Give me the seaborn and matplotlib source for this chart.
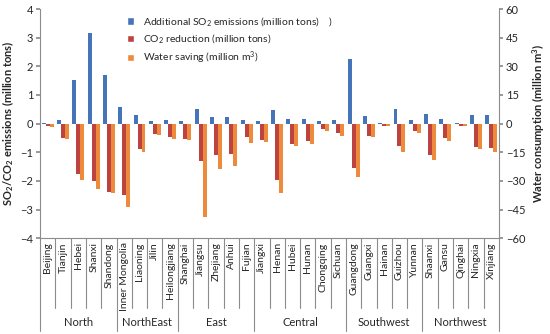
import matplotlib
matplotlib.use("Agg")
import matplotlib.pyplot as plt
from matplotlib.patches import Patch
import seaborn as sns
import pandas as pd

provinces = ['Beijing', 'Tianjin', 'Hebei', 'Shanxi', 'Shandong',
             'Inner Mongolia', 'Liaoning', 'Jilin', 'Heilongjiang',
             'Shanghai', 'Jiangsu', 'Zhejiang', 'Anhui', 'Fujian',
             'Jiangxi', 'Henan', 'Hubei', 'Hunan', 'Chongqing', 'Sichuan',
             'Guangdong', 'Guangxi', 'Hainan', 'Guizhou', 'Yunnan',
             'Shaanxi', 'Gansu', 'Qinghai', 'Ningxia', 'Xinjiang']
regions = ['North', 'NorthEast', 'East', 'Central', 'Southwest', 'Northwest']
region_sizes = [5, 4, 5, 6, 5, 5]

# million tons
so2 = [0.02, 0.12, 1.52, 3.17, 1.70,
       0.58, 0.30, 0.10, 0.14,
       0.08, 0.50, 0.24, 0.24, 0.14,
       0.10, 0.46, 0.17, 0.15, 0.08, 0.14,
       2.24, 0.25, 0.02, 0.52, 0.14,
       0.35, 0.17, 0.02, 0.29, 0.31]
co2 = [-0.10, -0.52, -1.75, -2.00, -2.38,
       -2.48, -0.90, -0.35, -0.48,
       -0.55, -1.30, -1.10, -1.07, -0.48,
       -0.57, -1.97, -0.70, -0.62, -0.20, -0.34,
       -1.55, -0.43, -0.07, -0.78, -0.25,
       -1.09, -0.52, -0.08, -0.81, -0.85]
# million m3 (right axis)
water = [-2.0, -8.2, -29.5, -34.2, -36.3,
         -43.8, -15.0, -6.0, -8.2,
         -8.7, -48.7, -24.0, -22.0, -10.2,
         -9.8, -36.5, -12.0, -10.8, -4.0, -6.3,
         -27.8, -7.2, -1.5, -15.0, -5.0,
         -19.0, -9.3, -1.5, -13.5, -15.0]

# right axis is 15x the left one (-60..60 vs -4..4)
RATIO = 15

lab_so2 = 'Additional SO$_2$ emissions (million tons)    )'
lab_co2 = 'CO$_2$ reduction (million tons)'
lab_w = 'Water saving (million m$^3$)'
colors = {lab_so2: '#4674B8', lab_co2: '#BC4340', lab_w: '#EE8A3C'}
order = [lab_so2, lab_co2, lab_w]

df = pd.DataFrame({'province': provinces * 3,
                   'series': [lab_so2] * 30 + [lab_co2] * 30 + [lab_w] * 30,
                   'value': so2 + co2 + [w / RATIO for w in water]})

sns.set_theme(style='white')
plt.rcParams['font.family'] = ['Lato', 'DejaVu Sans']
plt.rcParams['mathtext.default'] = 'regular'

fig = plt.figure(figsize=(5.5, 3.34), dpi=100)
ax = fig.add_axes([0.073, 0.287, 0.834, 0.686])

sns.barplot(data=df, x='province', y='value', hue='series', hue_order=order,
            order=provinces, palette=colors, width=0.78, gap=0, saturation=1,
            legend=False, linewidth=0, ax=ax)

ax.set_xlim(-0.5, 29.5)
ax.set_ylim(-4, 4)
ax.set_yticks(range(-4, 5))
ax2 = ax.twinx()
ax2.set_ylim(-4 * RATIO, 4 * RATIO)
ax2.set_yticks(range(-60, 61, 15))

grey = '#8c8c8c'
for a in (ax, ax2):
    for s in a.spines.values():
        s.set_visible(False)
ax.spines['left'].set_visible(True)
ax.spines['bottom'].set_visible(True)
ax2.spines['right'].set_visible(True)
for s in (ax.spines['left'], ax.spines['bottom'], ax2.spines['right']):
    s.set_color(grey)
    s.set_linewidth(0.8)

ax.tick_params(axis='y', direction='out', length=3, color=grey, labelsize=8, pad=2, left=True)
ax2.tick_params(axis='y', direction='out', length=3, color=grey, labelsize=8, pad=2, right=True)
ax.tick_params(axis='x', length=0, labelsize=7.5, pad=3)
ax.set_xticks(range(30))
ax.set_xticklabels(provinces, rotation=90, va='top')
ax.set_xlabel('')

ax.set_ylabel('SO$_2$/CO$_2$ emissions (million tons)', fontsize=8,
              fontweight='bold', labelpad=3)
ax2.set_ylabel('Water consumption (million m$^3$)', fontsize=8,
               fontweight='bold', rotation=90, labelpad=4)

# category and region separators below the axis
xt = ax.get_xaxis_transform()
bounds = [0]
for n in region_sizes:
    bounds.append(bounds[-1] + n)
for i in range(31):
    depth = -0.405 if i in bounds else -0.306
    ax.plot([i - 0.5, i - 0.5], [0, depth], transform=xt, clip_on=False,
            color=grey, lw=0.8)
for name, a, b in zip(regions, bounds[:-1], bounds[1:]):
    ax.text((a + b) / 2 - 0.5, -0.37, name, transform=xt, ha='center',
            va='center', fontsize=8)

handles = [Patch(facecolor=colors[k], label=k) for k in order]
ax.legend(handles=handles, loc='upper left', bbox_to_anchor=(0.175, 1.0),
          frameon=False, fontsize=7.5, handlelength=0.7, handleheight=0.7,
          handletextpad=0.9, labelspacing=0.4, borderaxespad=0.2)

fig.savefig('out.png', dpi=100)
